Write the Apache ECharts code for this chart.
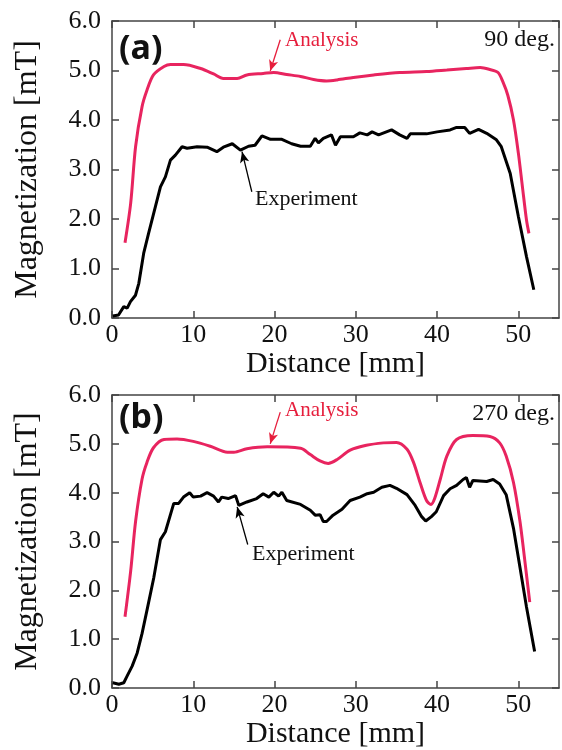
<!DOCTYPE html>
<html>
<head>
<meta charset="utf-8">
<script src="https://cdn.jsdelivr.net/npm/echarts@6/dist/echarts.min.js"></script>
<style>html,body{margin:0;padding:0;background:#fff;}#chart{width:562px;height:750px;}</style>
</head>
<body>
<div id="chart"></div>
<script>
// ---- data ----
var xTicks = [0, 10, 20, 30, 40, 50];
var yTicks = [0.0, 1.0, 2.0, 3.0, 4.0, 5.0, 6.0];

// (a) 90 deg.
var topAnaX = [1.6, 2.3, 2.9, 3.7, 4.3, 5.1, 6.4, 7.2, 8.8, 10.9, 12.5, 13.7, 15.4, 16.6, 18.6, 19.9, 21.5, 23.2, 24.8, 26.4, 27.7, 29.7, 32.2, 35.4, 38.7, 41.2, 43.6, 45.3, 46.5, 47.5, 48.1, 48.7, 49.4, 50.0, 50.5, 51.0, 51.3];
var topAnaY = [1.52, 2.32, 3.46, 4.27, 4.6, 4.91, 5.08, 5.12, 5.12, 5.04, 4.93, 4.84, 4.84, 4.91, 4.94, 4.96, 4.92, 4.88, 4.82, 4.79, 4.81, 4.86, 4.91, 4.96, 4.98, 5.01, 5.04, 5.06, 5.02, 4.96, 4.77, 4.5, 4.0, 3.33, 2.65, 1.98, 1.71];
var topExpX = [0.1, 0.8, 1.45, 1.87, 2.27, 2.89, 3.3, 3.9, 4.5, 5.34, 5.96, 6.57, 7.19, 7.8, 8.62, 9.24, 10.47, 11.7, 12.9, 13.7, 14.8, 15.8, 16.8, 17.6, 18.45, 19.5, 20.9, 22.1, 23.2, 24.4, 25.0, 25.4, 26.0, 27.0, 27.5, 28.1, 29.7, 30.5, 31.4, 32.0, 32.8, 34.4, 35.4, 36.3, 36.7, 38.7, 40.0, 41.6, 42.4, 43.4, 44.0, 45.1, 46.1, 47.3, 47.9, 49.0, 50.0, 51.0, 51.9];
var topExpY = [0.04, 0.06, 0.23, 0.2, 0.33, 0.46, 0.7, 1.31, 1.71, 2.25, 2.65, 2.85, 3.19, 3.29, 3.46, 3.43, 3.46, 3.45, 3.36, 3.45, 3.52, 3.39, 3.47, 3.49, 3.68, 3.61, 3.61, 3.52, 3.47, 3.47, 3.63, 3.54, 3.63, 3.70, 3.49, 3.66, 3.66, 3.74, 3.70, 3.76, 3.70, 3.80, 3.70, 3.63, 3.72, 3.72, 3.76, 3.80, 3.85, 3.85, 3.73, 3.81, 3.73, 3.60, 3.46, 2.92, 2.05, 1.24, 0.57];

// (b) 270 deg.
var botAnaX = [1.6, 2.3, 2.9, 3.7, 4.3, 5.1, 6.4, 8.0, 10.0, 12.1, 14.2, 15.0, 16.6, 19.1, 23.2, 24.4, 25.6, 26.6, 27.7, 29.3, 31.3, 33.4, 35.0, 36.3, 37.1, 37.9, 38.7, 39.25, 39.7, 40.4, 41.2, 42.4, 44.4, 46.5, 47.7, 48.5, 49.4, 50.2, 50.8, 51.4];
var botAnaY = [1.46, 2.40, 3.41, 4.28, 4.62, 4.92, 5.09, 5.10, 5.05, 4.95, 4.83, 4.83, 4.90, 4.94, 4.91, 4.78, 4.65, 4.60, 4.68, 4.87, 4.97, 5.02, 5.03, 4.89, 4.62, 4.21, 3.84, 3.76, 3.88, 4.28, 4.75, 5.09, 5.17, 5.15, 5.02, 4.75, 4.21, 3.41, 2.60, 1.76];
var botExpX = [0.1, 0.84, 1.45, 1.87, 2.48, 3.1, 3.7, 4.3, 5.14, 5.96, 6.57, 7.6, 8.2, 8.8, 9.56, 10.0, 10.9, 11.7, 12.5, 13.1, 13.5, 14.3, 15.2, 15.6, 16.6, 17.8, 18.6, 19.3, 19.9, 20.5, 20.9, 21.5, 23.2, 24.4, 25.0, 25.6, 26.0, 26.4, 27.2, 28.3, 29.3, 30.5, 31.4, 32.2, 33.2, 34.2, 35.0, 36.3, 37.3, 38.1, 38.6, 39.3, 39.9, 40.8, 41.6, 42.4, 43.2, 43.6, 44.0, 44.4, 46.1, 46.9, 47.7, 48.5, 49.4, 50.2, 51.0, 52.0];
var botExpY = [0.11, 0.08, 0.11, 0.25, 0.45, 0.72, 1.12, 1.59, 2.26, 3.04, 3.2, 3.78, 3.78, 3.91, 4.0, 3.91, 3.93, 4.0, 3.93, 3.81, 3.91, 3.88, 3.94, 3.74, 3.81, 3.88, 3.98, 3.91, 4.01, 3.93, 4.01, 3.84, 3.76, 3.64, 3.54, 3.55, 3.41, 3.41, 3.54, 3.66, 3.84, 3.91, 3.98, 4.01, 4.11, 4.15, 4.09, 3.96, 3.74, 3.51, 3.42, 3.51, 3.61, 3.94, 4.08, 4.15, 4.27, 4.31, 4.11, 4.25, 4.23, 4.27, 4.18, 3.96, 3.27, 2.47, 1.66, 0.75];

// ---- chart ----
function zip(xs, ys) { return xs.map(function (x, i) { return [x, ys[i]]; }); }

var SERIF = 'Liberation Serif';
var AX = '#444';
var RED_LINE = '#e8245f';
var RED_TXT = '#e61e3c';

function xAxisMain(g, gap) {
  return {
    type: 'value', gridIndex: g, position: 'bottom', min: 0, max: 55, interval: 10,
    name: 'Distance [mm]', nameLocation: 'middle', nameGap: gap,
    nameTextStyle: { fontFamily: SERIF, fontSize: 30, color: '#111' },
    axisLine: { show: true, onZero: false, lineStyle: { color: AX, width: 1.5 } },
    axisTick: { show: true, inside: true, length: 7, lineStyle: { color: AX, width: 1.5 } },
    axisLabel: { fontFamily: SERIF, fontSize: 26, color: '#111', margin: 4, showMaxLabel: false,
      formatter: function (v) { return xTicks.indexOf(v) >= 0 ? String(v) : ''; } },
    splitLine: { show: false }
  };
}
function xAxisTop(g) {
  return {
    type: 'value', gridIndex: g, position: 'top', min: 0, max: 55, interval: 10,
    axisLine: { show: true, onZero: false, lineStyle: { color: AX, width: 1.5 } },
    axisTick: { show: true, inside: true, length: 7, lineStyle: { color: AX, width: 1.5 } },
    axisLabel: { show: false }, splitLine: { show: false }
  };
}
function yAxisMain(g) {
  return {
    type: 'value', gridIndex: g, position: 'left', min: 0, max: 6, interval: 1,
    name: 'Magnetization [mT]', nameLocation: 'middle', nameGap: 68, nameRotate: 90,
    nameTextStyle: { fontFamily: SERIF, fontSize: 32, color: '#111' },
    axisLine: { show: true, onZero: false, lineStyle: { color: AX, width: 1.5 } },
    axisTick: { show: true, inside: true, length: 7, lineStyle: { color: AX, width: 1.5 } },
    axisLabel: { fontFamily: SERIF, fontSize: 26, color: '#111', margin: 11,
      formatter: function (v) { return yTicks.indexOf(v) >= 0 ? v.toFixed(1) : ''; } },
    splitLine: { show: false }
  };
}
function yAxisRight(g) {
  return {
    type: 'value', gridIndex: g, position: 'right', min: 0, max: 6, interval: 1,
    axisLine: { show: true, onZero: false, lineStyle: { color: AX, width: 1.5 } },
    axisTick: { show: true, inside: true, length: 7, lineStyle: { color: AX, width: 1.5 } },
    axisLabel: { show: false }, splitLine: { show: false }
  };
}

function arrow(color, from, to) {
  return {
    silent: true, symbol: ['none', 'arrow'], symbolSize: [7, 11], animation: false,
    lineStyle: { color: color, width: 1.3, type: 'solid' }, label: { show: false },
    emphasis: { disabled: true },
    data: [[{ coord: from }, { coord: to }]]
  };
}

function lineSeries(xi, yi, data, color, smooth, mark) {
  var s = {
    type: 'line', xAxisIndex: xi, yAxisIndex: yi, data: data, showSymbol: false,
    smooth: smooth, lineStyle: { color: color, width: 3 }, itemStyle: { color: color },
    z: 3, animation: false
  };
  if (mark) s.markLine = mark;
  return s;
}

function txt(x, y, text, font, color, align) {
  return { type: 'text', x: x, y: y, z: 10,
    style: { text: text, font: font, fill: color, align: align || 'left', verticalAlign: 'middle' } };
}

var option = {
  backgroundColor: '#fff',
  animation: false,
  grid: [
    { left: 112, top: 21, width: 447, height: 297 },
    { left: 112, top: 395, width: 447, height: 297 }
  ],
  xAxis: [xAxisMain(0, 28), xAxisTop(0), xAxisMain(1, 27), xAxisTop(1)],
  yAxis: [yAxisMain(0), yAxisRight(0), yAxisMain(1), yAxisRight(1)],
  series: [
    lineSeries(0, 0, zip(topAnaX, topAnaY), RED_LINE, 0.3, arrow(RED_TXT, [20.7, 5.62], [19.47, 4.99])),
    lineSeries(0, 0, zip(topExpX, topExpY), '#000', false, arrow('#000', [17.2, 2.55], [16.0, 3.36])),
    lineSeries(2, 2, zip(botAnaX, botAnaY), RED_LINE, 0.3, arrow(RED_TXT, [20.7, 5.65], [19.47, 5.0])),
    lineSeries(2, 2, zip(botExpX, botExpY), '#000', false, arrow('#000', [16.7, 2.94], [15.4, 3.71]))
  ],
  graphic: [
    txt(119, 49, '(a)', 'bold 34px "Noto Sans"', '#111'),
    txt(285, 40.7, 'Analysis', '21px "Liberation Serif"', RED_TXT),
    txt(555, 40, '90 deg.', '24px "Liberation Serif"', '#111', 'right'),
    txt(255, 199.4, 'Experiment', '22px "Liberation Serif"', '#111'),
    txt(119, 418, '(b)', 'bold 34px "Noto Sans"', '#111'),
    txt(285, 410.7, 'Analysis', '21px "Liberation Serif"', RED_TXT),
    txt(555, 414, '270 deg.', '24px "Liberation Serif"', '#111', 'right'),
    txt(252, 554.4, 'Experiment', '22px "Liberation Serif"', '#111')
  ]
};

var chart = echarts.init(document.getElementById('chart'), null, { renderer: 'canvas' });
chart.setOption(option);
</script>
</body>
</html>
